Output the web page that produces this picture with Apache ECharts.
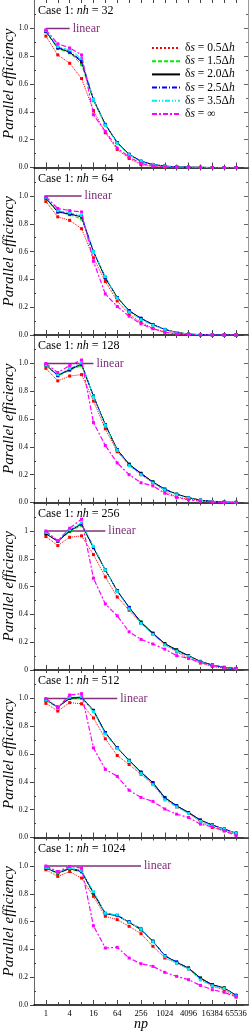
<!DOCTYPE html>
<html><head><meta charset="utf-8">
<script src="https://cdn.jsdelivr.net/npm/echarts@6/dist/echarts.min.js"></script>
<style>html,body{margin:0;padding:0;background:#fff}#c{width:249px;height:1031px}</style>
</head><body><div id="c"></div>
<script>
// ---------- data ----------
const npValues = [1,2,4,8,16,32,64,128,256,512,1024,2048,4096,8192,16384,32768,65536];
const xTickLabels = [1,4,16,64,256,1024,4096,16384,65536];
const yTickValues = [0,0.2,0.4,0.6,0.8,1.0];
const yMinorValues = [0.1,0.3,0.5,0.7,0.9,1.1];
const nhCases = [32,64,128,256,512,1024];
const seriesNames = ['δs = 0.5Δh','δs = 1.5Δh','δs = 2.0Δh','δs = 2.5Δh','δs = 3.5Δh','δs = ∞'];
const linearEnd = [4,8,16,32,64,256];

// nh = 32
const nh32_05  = [0.945,0.81,0.75,0.64,0.41,0.25,0.13,0.065,0.02,0.007,0.003,0.001,0,0,0,0,0];
const nh32_15  = [0.975,0.855,0.825,0.74,0.48,0.305,0.175,0.09,0.043,0.02,0.009,0.004,0.002,0.001,0,0,0];
const nh32_20  = [0.98,0.86,0.83,0.76,0.49,0.31,0.18,0.095,0.045,0.022,0.01,0.005,0.002,0.001,0,0,0];
const nh32_25  = [0.98,0.865,0.835,0.77,0.49,0.31,0.18,0.095,0.045,0.022,0.01,0.005,0.002,0.001,0,0,0];
const nh32_35  = [0.985,0.87,0.845,0.785,0.49,0.305,0.175,0.092,0.044,0.021,0.01,0.005,0.002,0.001,0,0,0];
const nh32_inf = [0.99,0.89,0.86,0.81,0.38,0.26,0.14,0.075,0.03,0.012,0.005,0.002,0.001,0,0,0,0];
// nh = 64
const nh64_05  = [0.96,0.85,0.825,0.765,0.555,0.385,0.245,0.15,0.09,0.048,0.022,0.008,0.003,0.001,0,0,0];
const nh64_15  = [0.98,0.885,0.865,0.835,0.6,0.41,0.27,0.175,0.118,0.075,0.04,0.018,0.007,0.002,0.001,0,0];
const nh64_20  = [0.985,0.885,0.87,0.85,0.6,0.41,0.27,0.175,0.12,0.075,0.04,0.018,0.007,0.002,0.001,0,0];
const nh64_25  = [0.99,0.89,0.875,0.855,0.6,0.415,0.27,0.175,0.12,0.075,0.04,0.018,0.007,0.002,0.001,0,0];
const nh64_35  = [0.99,0.895,0.88,0.86,0.6,0.42,0.265,0.165,0.11,0.07,0.038,0.017,0.007,0.002,0.001,0,0];
const nh64_inf = [0.995,0.91,0.895,0.885,0.53,0.295,0.205,0.135,0.08,0.045,0.02,0.008,0.003,0.001,0,0,0];
// nh = 128
const nh128_05  = [0.965,0.875,0.91,0.92,0.73,0.53,0.365,0.27,0.2,0.145,0.085,0.038,0.025,0.012,0.005,0.002,0.001];
const nh128_15  = [0.985,0.91,0.95,0.985,0.765,0.56,0.38,0.275,0.21,0.148,0.096,0.06,0.035,0.017,0.007,0.002,0.001];
const nh128_20  = [0.99,0.915,0.955,0.995,0.765,0.56,0.38,0.275,0.21,0.148,0.096,0.06,0.035,0.017,0.007,0.002,0.001];
const nh128_25  = [0.99,0.915,0.96,1.0,0.765,0.56,0.38,0.275,0.205,0.145,0.095,0.058,0.034,0.016,0.007,0.002,0.001];
const nh128_35  = [0.99,0.92,0.965,1.005,0.76,0.555,0.375,0.265,0.2,0.14,0.09,0.055,0.033,0.016,0.007,0.002,0.001];
const nh128_inf = [1.0,0.935,0.985,1.025,0.575,0.41,0.285,0.2,0.142,0.12,0.067,0.036,0.019,0.009,0.004,0.001,0];
// nh = 256
const nh256_05  = [0.96,0.895,0.955,0.965,0.83,0.67,0.525,0.43,0.335,0.26,0.185,0.13,0.085,0.05,0.025,0.012,0.007];
const nh256_15  = [0.985,0.925,0.995,1.04,0.88,0.72,0.57,0.45,0.345,0.265,0.19,0.145,0.103,0.062,0.036,0.019,0.01];
const nh256_20  = [0.98,0.925,1.0,1.05,0.88,0.72,0.57,0.45,0.345,0.265,0.19,0.145,0.103,0.062,0.036,0.019,0.01];
const nh256_25  = [0.99,0.93,1.005,1.055,0.885,0.72,0.57,0.45,0.34,0.26,0.185,0.14,0.1,0.06,0.035,0.018,0.01];
const nh256_35  = [0.99,0.93,1.01,1.06,0.89,0.72,0.565,0.44,0.335,0.255,0.18,0.135,0.098,0.058,0.034,0.017,0.01];
const nh256_inf = [1.0,0.93,1.02,1.085,0.66,0.475,0.39,0.275,0.22,0.187,0.15,0.103,0.084,0.055,0.031,0.019,0.012];
// nh = 512
const nh512_05  = [0.965,0.91,0.97,0.962,0.86,0.71,0.59,0.525,0.455,0.383,0.28,0.22,0.175,0.113,0.072,0.048,0.022];
const nh512_15  = [0.985,0.935,1.0,1.0,0.91,0.75,0.645,0.555,0.468,0.392,0.288,0.228,0.18,0.125,0.09,0.06,0.03];
const nh512_20  = [0.99,0.94,1.0,1.01,0.915,0.755,0.645,0.555,0.47,0.395,0.288,0.228,0.18,0.125,0.09,0.06,0.031];
const nh512_25  = [0.99,0.94,1.005,1.01,0.91,0.755,0.645,0.555,0.47,0.392,0.285,0.228,0.18,0.125,0.088,0.06,0.032];
const nh512_35  = [0.99,0.94,1.01,1.015,0.905,0.745,0.64,0.55,0.46,0.38,0.27,0.22,0.172,0.115,0.085,0.058,0.03];
const nh512_inf = [1.0,0.935,1.025,1.035,0.645,0.49,0.44,0.34,0.288,0.26,0.205,0.168,0.144,0.096,0.077,0.048,0.013];
// nh = 1024
const nh1024_05  = [0.973,0.925,0.96,0.913,0.782,0.638,0.614,0.566,0.513,0.422,0.338,0.302,0.259,0.189,0.134,0.11,0.058];
const nh1024_15  = [0.985,0.945,0.98,0.955,0.8,0.655,0.643,0.595,0.54,0.458,0.355,0.307,0.266,0.194,0.146,0.123,0.07];
const nh1024_20  = [0.985,0.95,0.98,0.96,0.805,0.657,0.643,0.595,0.542,0.458,0.355,0.307,0.266,0.194,0.146,0.123,0.07];
const nh1024_25  = [0.99,0.955,0.985,0.965,0.81,0.66,0.645,0.6,0.548,0.46,0.355,0.31,0.265,0.19,0.145,0.12,0.068];
const nh1024_35  = [0.99,0.955,0.985,0.965,0.815,0.66,0.648,0.595,0.545,0.455,0.35,0.3,0.258,0.18,0.138,0.118,0.065];
const nh1024_inf = [1.0,0.96,0.997,0.985,0.57,0.41,0.415,0.338,0.297,0.278,0.235,0.206,0.182,0.141,0.11,0.091,0.058];

const panelData = [
  [nh32_05,nh32_15,nh32_20,nh32_25,nh32_35,nh32_inf],
  [nh64_05,nh64_15,nh64_20,nh64_25,nh64_35,nh64_inf],
  [nh128_05,nh128_15,nh128_20,nh128_25,nh128_35,nh128_inf],
  [nh256_05,nh256_15,nh256_20,nh256_25,nh256_35,nh256_inf],
  [nh512_05,nh512_15,nh512_20,nh512_25,nh512_35,nh512_inf],
  [nh1024_05,nh1024_15,nh1024_20,nh1024_25,nh1024_35,nh1024_inf]
];

// ---------- styling ----------
const FONT = 'Liberation Serif';
const PH = 167.5, LEFT = 34, RIGHT = 1;
const styles = [
  {color:'#ff0000', type:'dotted', width:1},
  {color:'#00ee00', type:[4,2], width:1},
  {color:'#000000', type:'solid', width:1},
  {color:'#0000ff', type:[5,2,1,2], width:1},
  {color:'#00eeee', type:[5,2,1,2,1,2], width:1},
  {color:'#ff00ff', type:[5,2,2,2], width:1.2}
];
const LIN = '#80307a';
const log2 = v => Math.log2(v);
const xAll = npValues.map(log2);
const xLab = xTickLabels.map(log2);

const grids=[], xAxes=[], yAxes=[], series=[], titles=[];
nhCases.forEach((nh,k)=>{
  const last = k === nhCases.length-1;
  grids.push({left:LEFT, right:RIGHT, top:PH*k, height:PH, outerBoundsMode:'none', containLabel:false});
  const xb = {gridIndex:k, type:'value', min:-1, max:17, splitLine:{show:false}};
  xAxes.push(Object.assign({}, xb, {position:'bottom',
    axisLine:{show:true, onZero:false, lineStyle:{color:'#000', width:1.6}},
    axisTick:{show:true, inside:true, length:3, customValues:xAll, lineStyle:{color:'#444'}},
    axisLabel:{show:last, customValues:xLab, formatter:v=>String(Math.round(Math.pow(2,v))),
      fontSize:8.6, fontFamily:FONT, color:'#000', margin:4, hideOverlap:false,
      showMinLabel:true, showMaxLabel:true},
    name: last ? 'np' : '', nameLocation:'middle', nameGap:12, nameMoveOverlap:false,
    nameTextStyle:{fontStyle:'italic', fontSize:14, fontFamily:FONT, color:'#000'}}));
  xAxes.push(Object.assign({}, xb, {position:'bottom', axisLine:{show:false, onZero:false},
    axisTick:{show:true, inside:true, length:5, customValues:xLab, lineStyle:{color:'#444'}},
    axisLabel:{show:false}}));
  xAxes.push(Object.assign({}, xb, {position:'top', axisLine:{show:false, onZero:false},
    axisTick:{show:true, inside:true, length:3, customValues:xAll, lineStyle:{color:'#444'}},
    axisLabel:{show:false}}));
  const yb = {gridIndex:k, type:'value', min:0, max:1.205, splitLine:{show:false}};
  yAxes.push(Object.assign({}, yb, {position:'left',
    axisLine:{show:true, onZero:false, lineStyle:{color:'#666', width:1}},
    axisTick:{show:true, inside:false, length:4, customValues:yTickValues, lineStyle:{color:'#444'}},
    axisLabel:{show:true, customValues:yTickValues, fontSize:7.5, fontFamily:FONT, color:'#000', margin:6,
      formatter: v => (nh === 256 ? String(+v.toFixed(1)) : v.toFixed(1))},
    name:'Parallel efficiency', nameLocation:'middle', nameGap:17, nameMoveOverlap:false,
    nameTextStyle:{fontStyle:'italic', fontSize:15, fontFamily:FONT, color:'#000'}}));
  yAxes.push(Object.assign({}, yb, {position:'left', axisLine:{show:false, onZero:false},
    axisTick:{show:true, inside:true, length:2, customValues:yMinorValues, lineStyle:{color:'#444'}},
    axisLabel:{show:false}}));
  yAxes.push(Object.assign({}, yb, {position:'right',
    axisLine:{show:true, onZero:false, lineStyle:{color:'#999', width:1}},
    axisTick:{show:true, inside:true, length:4, customValues:yTickValues, lineStyle:{color:'#666'}},
    axisLabel:{show:false}}));
  yAxes.push(Object.assign({}, yb, {position:'right', axisLine:{show:false, onZero:false},
    axisTick:{show:true, inside:true, length:2, customValues:yMinorValues, lineStyle:{color:'#666'}},
    axisLabel:{show:false}}));

  titles.push({text:'{n|Case 1: }{i|nh}{n| = ' + nh + '}', left:38, top:PH*k + 5, padding:0,
    textStyle:{fontWeight:'normal', rich:{n:{fontSize:12, fontFamily:FONT, color:'#000', fontWeight:'normal'},
                     i:{fontSize:12, fontFamily:FONT, fontStyle:'italic', color:'#000', fontWeight:'normal'}}}});

  series.push({type:'line', name:'linear', xAxisIndex:3*k, yAxisIndex:4*k, silent:true,
    data:[[0,1],[log2(linearEnd[k]),1]], symbol:'none', z:1,
    lineStyle:{color:LIN, width:1.3},
    endLabel:{show:true, formatter:'linear', color:LIN, fontSize:12, fontFamily:FONT, distance:3}});

  panelData[k].forEach((arr, s)=>{
    const st = styles[s];
    series.push({type:'line', name:seriesNames[s], xAxisIndex:3*k, yAxisIndex:4*k,
      data: npValues.map((np,i)=>[log2(np), arr[i]]),
      symbol:'rect', symbolSize:3, showSymbol:true, z:2+s,
      lineStyle:{color:st.color, width:st.width, type:st.type},
      itemStyle:{color:st.color}});
  });
});

const legendRich = {
  u:{fontSize:11.5, fontFamily:FONT, color:'#000', lineHeight:9},
  i:{fontSize:11.5, fontFamily:FONT, fontStyle:'italic', color:'#000', lineHeight:9}
};
const legendFmt = name => {
  const m = name.match(/^δs = (.*?)(Δh)?$/);
  return '{u|δ}{i|s}{u| = ' + m[1] + (m[2] ? 'Δ}{i|h}' : '}');
};

const chart = echarts.init(document.getElementById('c'), null, {renderer:'canvas'});
chart.setOption({
  animation:false,
  backgroundColor:'#fff',
  title: titles,
  grid: grids,
  xAxis: xAxes,
  yAxis: yAxes,
  legend:{data:seriesNames, orient:'vertical', left:151, top:42, padding:0,
    itemWidth:28, itemHeight:7, itemGap:1.2, selectedMode:false,
    itemStyle:{opacity:0},
    textStyle:{fontSize:11.5, fontFamily:FONT, color:'#000', lineHeight:9, rich:legendRich},
    formatter: legendFmt},
  series: series
});
</script></body></html>
